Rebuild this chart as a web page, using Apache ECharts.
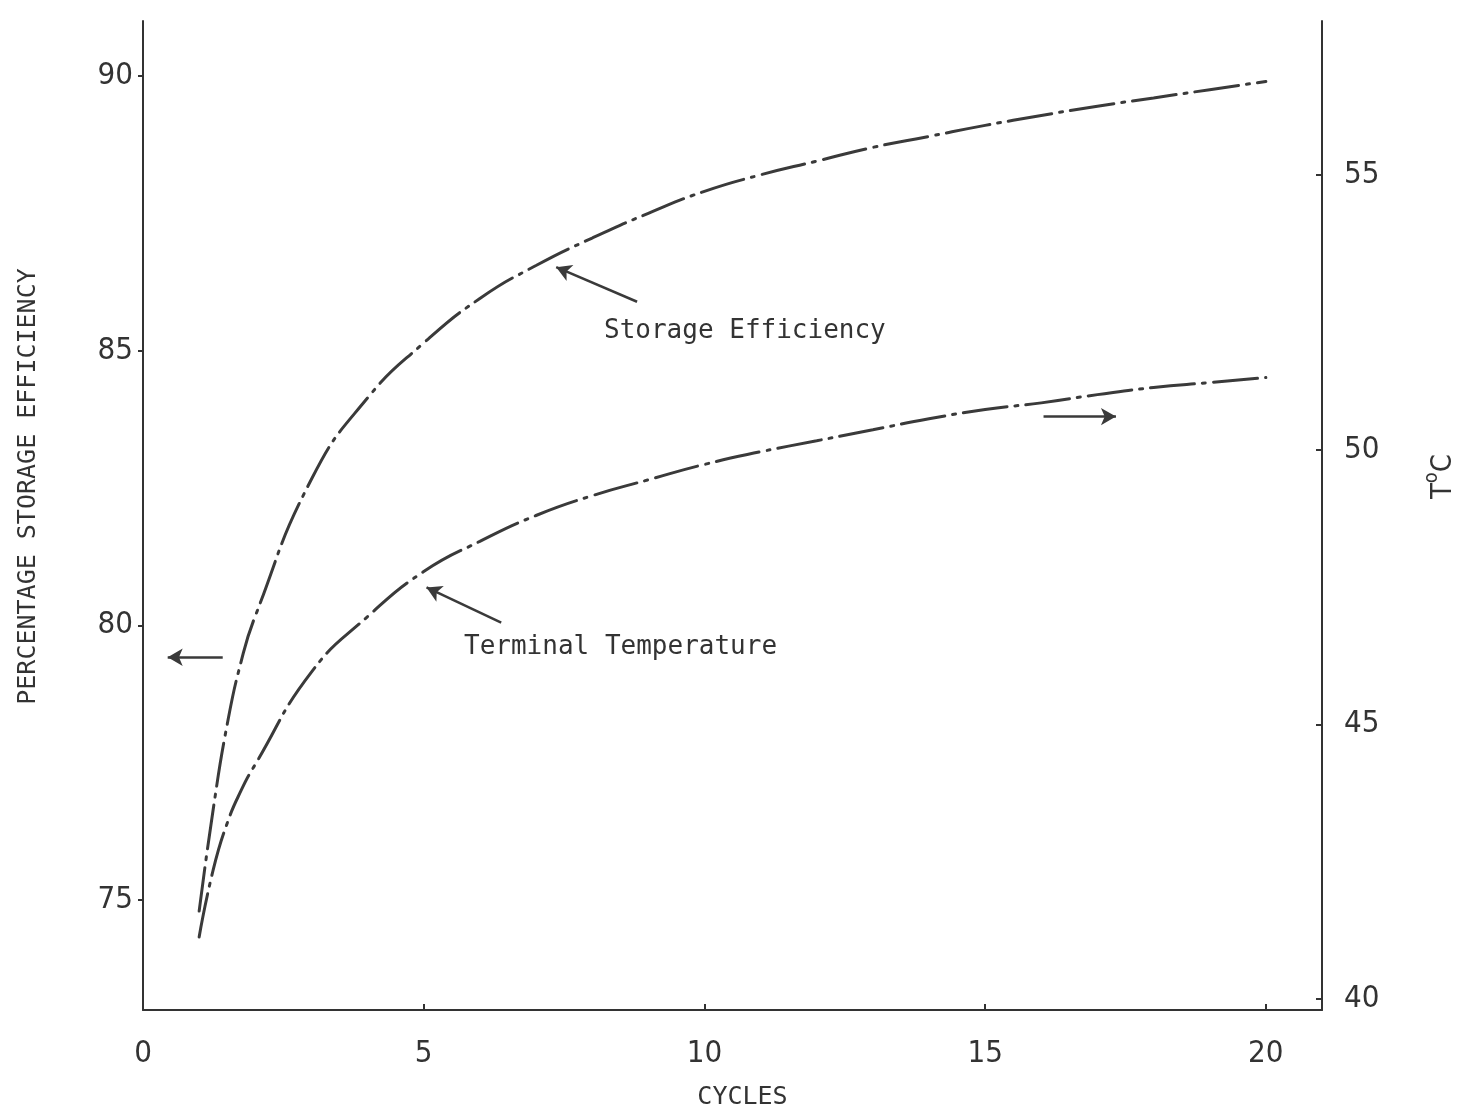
<!DOCTYPE html>
<html>
<head>
<meta charset="utf-8">
<script src="https://cdn.jsdelivr.net/npm/echarts@6/dist/echarts.min.js"></script>
<style>
html,body{margin:0;padding:0;background:#fff;}
#chart{width:1463px;height:1111px;}
</style>
</head>
<body>
<div id="chart"></div>
<script>
// ---- data ----
const cycles = [1, 1.25, 1.5, 1.75, 2, 3, 4, 5, 6, 7, 8, 9, 10, 11, 12, 13, 14, 15, 16, 17, 18, 19, 20];
const storageEfficiency = [74.8, 76.65, 78.2, 79.35, 80.17, 82.66, 84.14, 85.14, 85.95, 86.55, 87.05, 87.5, 87.9, 88.2, 88.45, 88.7, 88.9, 89.1, 89.28, 89.45, 89.6, 89.75, 89.9];
const terminalTemperature = [41.13, 42.35, 43.2, 43.8, 44.27, 45.95, 46.96, 47.78, 48.33, 48.8, 49.16, 49.45, 49.73, 49.96, 50.16, 50.36, 50.56, 50.73, 50.85, 51.0, 51.13, 51.22, 51.31];
const xTicks = [0, 5, 10, 15, 20];
const leftTicks = [75, 80, 85, 90];
const rightTicks = [40, 45, 50, 55];

const INK = '#333333';
const tickFont = '"Liberation Sans Narrow", "DejaVu Sans Condensed", sans-serif';
const monoFont = '"DejaVu Sans Mono", "Liberation Mono", monospace';

const effData = cycles.map((c, i) => [c, storageEfficiency[i]]);
const tempData = cycles.map((c, i) => [c, terminalTemperature[i]]);

const dashDot = [44, 8, 3, 8];

const chart = echarts.init(document.getElementById('chart'), null, {renderer: 'canvas'});
const option = {
  backgroundColor: '#ffffff',
  animation: false,
  grid: {left: 143, right: 141, top: 21, bottom: 101, containLabel: false, outerBoundsMode: 'none'},
  xAxis: {
    type: 'value', min: 0, max: 21, interval: 5,
    name: 'CYCLES', nameLocation: 'middle', nameGap: 75,
    nameTextStyle: {fontFamily: monoFont, fontSize: 25, color: INK, padding: [0, 0, 0, 20]},
    axisLine: {show: true, lineStyle: {color: INK, width: 2}},
    axisTick: {show: true, inside: true, length: 6, lineStyle: {color: INK, width: 2}, customValues: xTicks},
    axisLabel: {color: INK, fontFamily: tickFont, fontSize: 31, margin: 28, customValues: xTicks},
    splitLine: {show: false}
  },
  yAxis: [
    {
      type: 'value', position: 'left', min: 73, max: 91,
      name: 'PERCENTAGE STORAGE EFFICIENCY', nameLocation: 'middle', nameRotate: 90, nameGap: 102,
      nameTextStyle: {fontFamily: monoFont, fontSize: 25, color: INK, padding: [0, 0, 0, 58]},
      axisLine: {show: true, lineStyle: {color: INK, width: 2}},
      axisTick: {show: true, inside: false, length: 5, lineStyle: {color: INK, width: 2}, customValues: leftTicks},
      axisLabel: {color: INK, fontFamily: tickFont, fontSize: 31, margin: 10, customValues: leftTicks},
      splitLine: {show: false}
    },
    {
      type: 'value', position: 'right', min: 39.8, max: 57.8,
      name: '{a|T}{s|o}{a|C}', nameLocation: 'middle', nameRotate: 90, nameGap: 100,
      nameTextStyle: {
        color: INK, padding: [0, 0, 0, 78],
        rich: {
          a: {fontFamily: tickFont, fontSize: 29, color: INK, lineHeight: 36, verticalAlign: 'bottom'},
          s: {fontFamily: tickFont, fontSize: 20, color: INK, lineHeight: 36, verticalAlign: 'top'}
        }
      },
      axisLine: {show: true, lineStyle: {color: INK, width: 2}},
      axisTick: {show: true, inside: true, length: 6, lineStyle: {color: INK, width: 2}, customValues: rightTicks},
      axisLabel: {color: INK, fontFamily: tickFont, fontSize: 31, margin: 22, customValues: rightTicks},
      splitLine: {show: false}
    }
  ],
  series: [
    {
      name: 'Storage Efficiency', type: 'line', yAxisIndex: 0,
      data: effData, showSymbol: false, smooth: 0.5,
      lineStyle: {color: '#3a3a3a', width: 3, type: dashDot, cap: 'round'},
      markLine: {
        silent: true, symbol: ['none', 'arrow'], symbolSize: [13, 15],
        label: {show: false},
        lineStyle: {color: '#3a3a3a', width: 2.5, type: 'solid'},
        data: [
          [{coord: [8.8, 85.89]}, {coord: [7.36, 86.52]}],
          [{coord: [1.42, 79.42]}, {coord: [0.44, 79.42]}]
        ]
      }
    },
    {
      name: 'Terminal Temperature', type: 'line', yAxisIndex: 1,
      data: tempData, showSymbol: false, smooth: 0.5,
      lineStyle: {color: '#3a3a3a', width: 3, type: dashDot, cap: 'round'},
      markLine: {
        silent: true, symbol: ['none', 'arrow'], symbolSize: [13, 15],
        label: {show: false},
        lineStyle: {color: '#3a3a3a', width: 2.5, type: 'solid'},
        data: [
          [{coord: [6.38, 46.85]}, {coord: [5.05, 47.49]}],
          [{coord: [16.04, 50.6]}, {coord: [17.33, 50.6]}]
        ]
      }
    }
  ],
  graphic: [
    {type: 'text', left: 604, top: 318, style: {text: 'Storage Efficiency', font: '26px ' + monoFont, fill: INK}},
    {type: 'text', left: 464, top: 634, style: {text: 'Terminal Temperature', font: '26px ' + monoFont, fill: INK}}
  ]
};
chart.setOption(option);
</script>
</body>
</html>
